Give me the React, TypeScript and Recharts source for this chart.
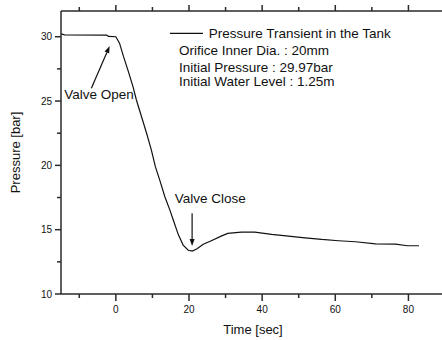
import {
  Legend,
  Line,
  LineChart,
  ReferenceDot,
  ReferenceLine,
  XAxis,
  YAxis,
} from 'recharts';

const timeSec = [
  -15, -14, -2.5, -2, 0, 1, 2.1, 3.3, 4.7, 5.6, 7, 8.4, 9.7, 10.8, 12, 13.4, 14.8, 15.7,
  17.1, 18.4, 19.8, 20.9, 22.1, 23.9, 25.8, 28.8, 30.6, 34.3, 38, 42.6, 47.2, 51.7, 56.3,
  60.9, 65.5, 71, 76.5, 79.7, 82.9,
];
const pressureBar = [
  30.22, 30.15, 30.12, 30.02, 30.0, 29.5, 28.45, 27.4, 26.1, 25.1, 23.8, 22.5, 21.2, 19.9,
  18.85, 17.56, 16.5, 15.75, 14.6, 13.8, 13.4, 13.33, 13.49, 13.87, 14.1, 14.5, 14.71, 14.81,
  14.81, 14.63, 14.5, 14.37, 14.24, 14.14, 14.06, 13.9, 13.88, 13.75, 13.75,
];

const xTicks = [-10, 0, 10, 20, 30, 40, 50, 60, 70, 80];
const yTicks = [10, 12.5, 15, 17.5, 20, 22.5, 25, 27.5, 30];

const legendLines = [
  'Orifice Inner Dia. : 20mm',
  'Initial Pressure : 29.97bar',
  'Initial Water Level : 1.25m',
];

const FONT = '"Liberation Sans", Arial, sans-serif';
const AXIS = '#2a2a2a';
const INK = '#111';

const data = timeSec.map((t, i) => ({ t, p: pressureBar[i] }));

function BottomTick({ x, y, payload }: any) {
  const major = payload.value % 20 === 0;
  return (
    <g>
      <line x1={x} x2={x} y1={y} y2={y + (major ? 7 : 4)} stroke={AXIS} strokeWidth={1.5} />
      {major && (
        <text x={x} y={y + 15.5} textAnchor="middle" dominantBaseline="central" fontSize={10} fontFamily={FONT} fill={INK}>
          {payload.value}
        </text>
      )}
    </g>
  );
}

function TopTick({ x, y, payload }: any) {
  const major = payload.value % 20 === 0;
  return <line x1={x} x2={x} y1={y} y2={y - (major ? 6 : 4)} stroke={AXIS} strokeWidth={1.5} />;
}

function LeftTick({ x, y, payload }: any) {
  const major = payload.value % 5 === 0;
  return (
    <g>
      <line x1={x} x2={x - (major ? 6 : 4)} y1={y} y2={y} stroke={AXIS} strokeWidth={1.5} />
      {major && (
        <text x={x - 9} y={y} textAnchor="end" dominantBaseline="central" fontSize={10} fontFamily={FONT} fill={INK}>
          {payload.value}
        </text>
      )}
    </g>
  );
}

function Arrow({ x1, y1, x2, y2 }: any) {
  const dx = x2 - x1;
  const dy = y2 - y1;
  const len = Math.hypot(dx, dy) || 1;
  const ux = dx / len;
  const uy = dy / len;
  const bx = x2 - ux * 7;
  const by = y2 - uy * 7;
  const head = `${x2},${y2} ${bx - uy * 2.5},${by + ux * 2.5} ${bx + uy * 2.5},${by - ux * 2.5}`;
  return (
    <g>
      <line x1={x1} y1={y1} x2={bx} y2={by} stroke={INK} strokeWidth={1.2} />
      <polygon points={head} fill={INK} />
    </g>
  );
}

function note(text: string) {
  return (props: any) => (
    <text x={props.cx} y={props.cy} dominantBaseline="central" fontSize={13.5} fontFamily={FONT} fill={INK}>
      {text}
    </text>
  );
}

function LegendBox() {
  return (
    <svg width={280} height={70} style={{ display: 'block' }}>
      <line x1={5} x2={38} y1={11.3} y2={11.3} stroke={INK} strokeWidth={1.2} />
      <text x={43.7} y={11.3} dominantBaseline="central" fontSize={13.5} fontFamily={FONT} fill={INK}>
        Pressure Transient in the Tank
      </text>
      {legendLines.map((s, i) => (
        <text key={s} x={14} y={[28.7, 45.7, 59.7][i]} dominantBaseline="central" fontSize={13.5} fontFamily={FONT} fill={INK}>
          {s}
        </text>
      ))}
    </svg>
  );
}

export default function App() {
  return (
    <div style={{ position: 'absolute', left: 0, top: 0, width: 442, height: 340, overflow: 'hidden', background: '#fff' }}>
      <LineChart width={445} height={340} data={data} margin={{ top: 10, right: 0, left: 0, bottom: 0 }}>
        <XAxis
          xAxisId="top"
          orientation="top"
          type="number"
          dataKey="t"
          domain={[-15, 90]}
          allowDataOverflow
          ticks={xTicks}
          interval={0}
          height={1}
          tickSize={0}
          tickMargin={0}
          tickLine={false}
          tick={<TopTick />}
          axisLine={{ stroke: AXIS, strokeWidth: 1.5 }}
        />
        <XAxis
          type="number"
          dataKey="t"
          domain={[-15, 90]}
          allowDataOverflow
          ticks={xTicks}
          interval={0}
          height={46}
          tickSize={0}
          tickMargin={0}
          tickLine={false}
          tick={<BottomTick />}
          axisLine={{ stroke: AXIS, strokeWidth: 1.5 }}
          label={{
            content: ({ viewBox }: any) => (
              <text
                x={viewBox.x + viewBox.width / 2}
                y={viewBox.y + 35}
                textAnchor="middle"
                dominantBaseline="central"
                fontSize={13}
                fontFamily={FONT}
                fill={INK}
              >
                Time [sec]
              </text>
            ),
          }}
        />
        <YAxis
          type="number"
          domain={[10, 32]}
          allowDataOverflow
          ticks={yTicks}
          interval={0}
          width={61}
          tickSize={0}
          tickMargin={0}
          tickLine={false}
          tick={<LeftTick />}
          axisLine={{ stroke: AXIS, strokeWidth: 1.5 }}
          label={{
            content: ({ viewBox }: any) => {
              const cy = viewBox.y + viewBox.height / 2;
              return (
                <text
                  x={15}
                  y={cy}
                  transform={`rotate(-90, 15, ${cy})`}
                  textAnchor="middle"
                  dominantBaseline="central"
                  fontSize={13}
                  fontFamily={FONT}
                  fill={INK}
                >
                  Pressure [bar]
                </text>
              );
            },
          }}
        />
        <Legend
          layout="vertical"
          align="center"
          verticalAlign="middle"
          wrapperStyle={{ left: 165, top: 22, width: 280, height: 70 }}
          content={() => <LegendBox />}
        />
        <ReferenceLine segment={[{ x: -6.7, y: 26.0 }, { x: -1.7, y: 29.28 }]} shape={(p: any) => <Arrow {...p} />} />
        <ReferenceLine segment={[{ x: 20.85, y: 16.27 }, { x: 20.85, y: 13.73 }]} shape={(p: any) => <Arrow {...p} />} />
        <ReferenceDot x={-14.1} y={25.47} r={0} shape={note('Valve Open')} />
        <ReferenceDot x={16.1} y={17.46} r={0} shape={note('Valve Close')} />
        {/* invisible twin so the mirrored top axis has something to scale */}
        <Line
          xAxisId="top"
          type="linear"
          dataKey="p"
          stroke="none"
          dot={false}
          activeDot={false}
          legendType="none"
          isAnimationActive={false}
        />
        <Line
          type="linear"
          dataKey="p"
          stroke={INK}
          strokeWidth={1.2}
          dot={false}
          isAnimationActive={false}
        />
      </LineChart>
    </div>
  );
}
